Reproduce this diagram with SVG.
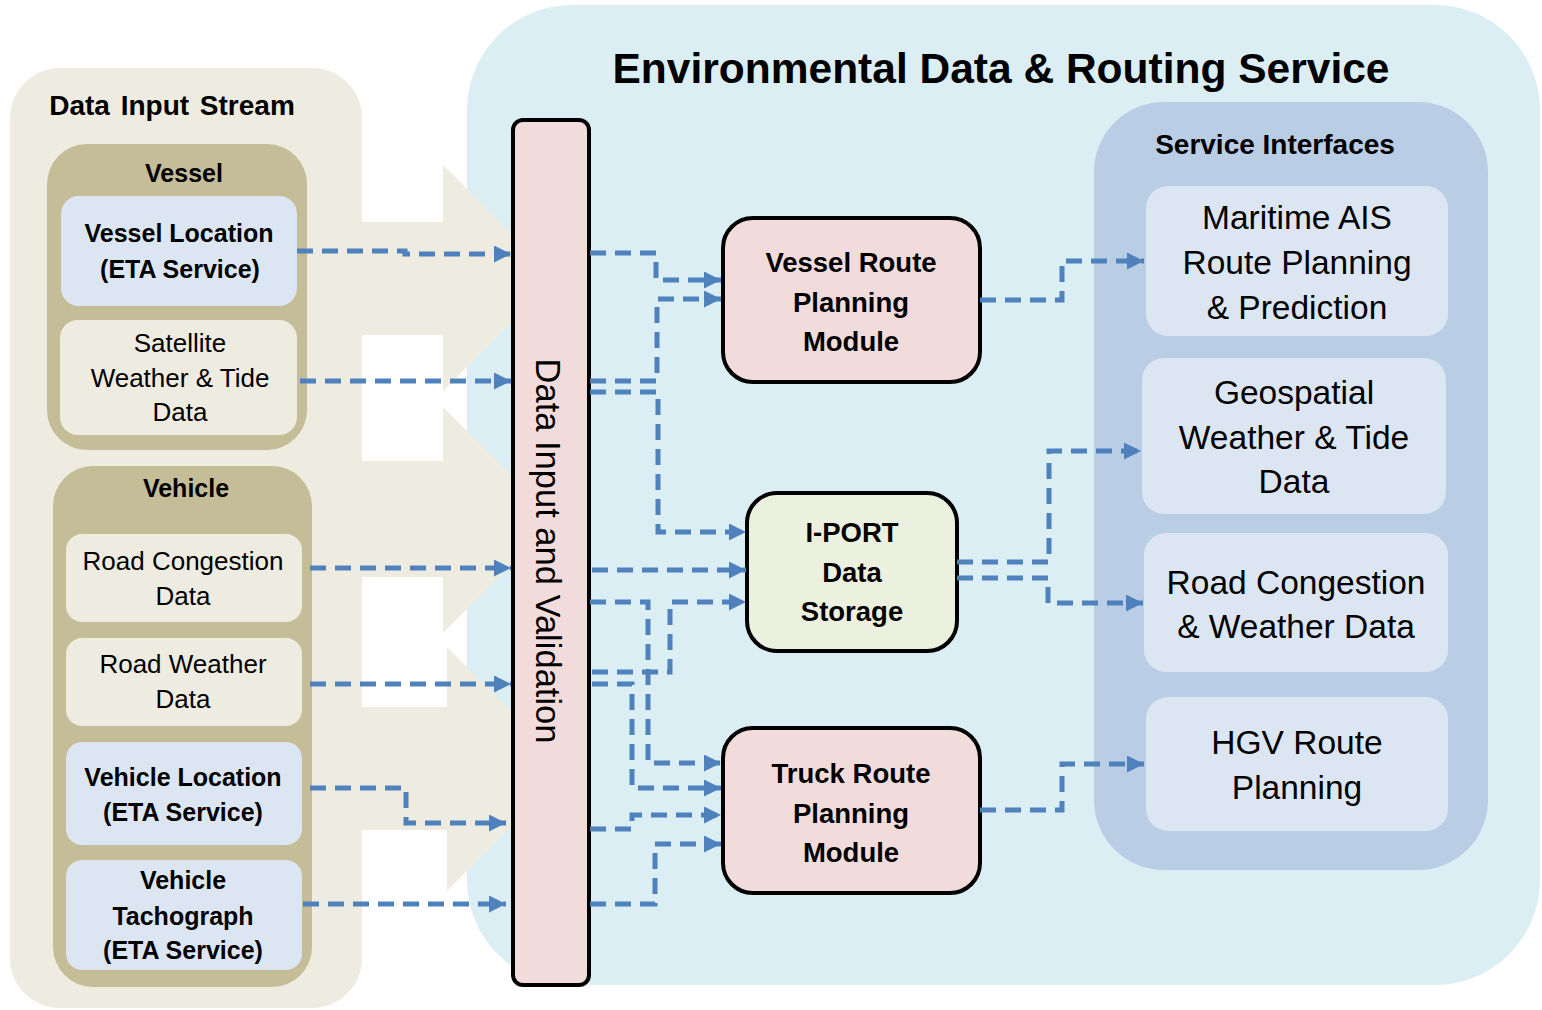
<svg xmlns="http://www.w3.org/2000/svg" width="1542" height="1010" viewBox="0 0 1542 1010">
<style>
text{font-family:"Liberation Sans",Arial,sans-serif;fill:#000;text-anchor:middle}
.b{font-weight:bold}
.s24{font-size:25px}
.s25{font-size:26px}
.s26{font-size:27.5px}
.s31{font-size:33.5px}
.beige{fill:#eeebe0}
.tan{fill:#c4bd97}
.lb{fill:#dce6f2}
.mod{stroke:#000;stroke-width:4}
.c{fill:none;stroke:#4f81bd;stroke-width:5;stroke-dasharray:16 9;marker-end:url(#ah)}
</style>
<defs>
<marker id="ah" markerUnits="userSpaceOnUse" markerWidth="17" markerHeight="17" refX="17" refY="8.5" orient="auto">
<path d="M0,0 L17,8.5 L0,17 z" fill="#4f81bd"/>
</marker>
</defs>
<rect width="1542" height="1010" fill="#fff"/>
<g id="routing-service">
<rect x="467" y="5" width="1073" height="980" rx="105" fill="#dbeef4"/>
<text class="b" x="1001" y="83" style="font-size:42.5px">Environmental Data &amp; Routing Service</text>
</g>
<g id="input-stream">
<rect x="10" y="68" width="352" height="940" rx="50" class="beige"/>
<polygon class="beige" points="360,222 443,222 443,165 556,278 443,391 443,335 360,335"/>
<polygon class="beige" points="360,461 443,461 443,407 556,520 443,633 443,577 360,577"/>
<polygon class="beige" points="360,707 447,707 447,647 569,769 447,891 447,830 360,830"/>
<text class="b" x="172" y="115" style="font-size:28px;word-spacing:3px">Data Input Stream</text>
</g>
<g id="vessel-group">
<rect x="47" y="144" width="260" height="306" rx="40" class="tan"/>
<text class="b s24" x="184" y="182">Vessel</text>
</g>
<g id="vessel-location">
<rect x="61" y="196" width="236" height="110" rx="18" class="lb"/>
<text class="b s24" x="179" y="242">Vessel Location</text>
<text class="b s24" x="180" y="278">(ETA Service)</text>
</g>
<g id="satellite">
<rect x="60" y="320" width="237" height="115" rx="18" class="beige"/>
<text class="s25" x="180" y="352">Satellite</text>
<text class="s25" x="180" y="387">Weather &amp; Tide</text>
<text class="s25" x="180" y="421">Data</text>
</g>
<g id="vehicle-group">
<rect x="53" y="466" width="259" height="521" rx="40" class="tan"/>
<text class="b s24" x="186" y="497">Vehicle</text>
</g>
<g id="road-congestion">
<rect x="66" y="534" width="236" height="88" rx="16" class="beige"/>
<text class="s25" x="183" y="570">Road Congestion</text>
<text class="s25" x="183" y="605">Data</text>
</g>
<g id="road-weather">
<rect x="66" y="638" width="236" height="88" rx="16" class="beige"/>
<text class="s25" x="183" y="673">Road Weather</text>
<text class="s25" x="183" y="708">Data</text>
</g>
<g id="vehicle-location">
<rect x="66" y="742" width="236" height="103" rx="16" class="lb"/>
<text class="b s24" x="183" y="786">Vehicle Location</text>
<text class="b s24" x="183" y="821">(ETA Service)</text>
</g>
<g id="vehicle-tachograph">
<rect x="66" y="860" width="236" height="110" rx="16" class="lb"/>
<text class="b s24" x="183" y="889">Vehicle</text>
<text class="b s24" x="183" y="925">Tachograph</text>
<text class="b s24" x="183" y="959">(ETA Service)</text>
</g>
<g id="validation">
<rect x="513" y="120" width="76" height="865" rx="10" fill="#f2dcdb" class="mod"/>
<text transform="translate(548,551) rotate(90)" x="0" y="12" style="font-size:34.5px">Data Input and Validation</text>
</g>
<g id="vessel-route-module">
<rect x="723" y="218" width="257" height="164" rx="30" fill="#f2dcdb" class="mod"/>
<text class="b s26" x="851" y="272">Vessel Route</text>
<text class="b s26" x="851" y="312">Planning</text>
<text class="b s26" x="851" y="351">Module</text>
</g>
<g id="iport-storage">
<rect x="747" y="493" width="210" height="158" rx="30" fill="#ebf1de" class="mod"/>
<text class="b s26" x="852" y="542">I-PORT</text>
<text class="b s26" x="852" y="582">Data</text>
<text class="b s26" x="852" y="621">Storage</text>
</g>
<g id="truck-route-module">
<rect x="723" y="728" width="257" height="165" rx="30" fill="#f2dcdb" class="mod"/>
<text class="b s26" x="851" y="783">Truck Route</text>
<text class="b s26" x="851" y="823">Planning</text>
<text class="b s26" x="851" y="862">Module</text>
</g>
<g id="service-interfaces">
<rect x="1094" y="102" width="394" height="768" rx="70" fill="#b9cde5"/>
<text class="b" x="1275" y="154" style="font-size:28px">Service Interfaces</text>
</g>
<g id="maritime-ais">
<rect x="1146" y="186" width="302" height="150" rx="22" class="lb"/>
<text class="s31" x="1297" y="229">Maritime AIS</text>
<text class="s31" x="1297" y="274">Route Planning</text>
<text class="s31" x="1297" y="319">&amp; Prediction</text>
</g>
<g id="geospatial">
<rect x="1142" y="358" width="304" height="156" rx="22" class="lb"/>
<text class="s31" x="1294" y="404">Geospatial</text>
<text class="s31" x="1294" y="449">Weather &amp; Tide</text>
<text class="s31" x="1294" y="493">Data</text>
</g>
<g id="road-congestion-weather">
<rect x="1144" y="533" width="304" height="139" rx="22" class="lb"/>
<text class="s31" x="1296" y="594">Road Congestion</text>
<text class="s31" x="1296" y="638">&amp; Weather Data</text>
</g>
<g id="hgv-route">
<rect x="1146" y="697" width="302" height="134" rx="22" class="lb"/>
<text class="s31" x="1297" y="754">HGV Route</text>
<text class="s31" x="1297" y="799">Planning</text>
</g>
<g id="connectors">
<path class="c" d="M297,251 H405 V254 H511"/>
<path class="c" d="M300,381 H511"/>
<path class="c" d="M310,568 H511"/>
<path class="c" d="M310,684 H511"/>
<path class="c" d="M310,788 H406 V823 H506"/>
<path class="c" d="M303,904 H506"/>
<path class="c" d="M590,253 H656 V280 H721"/>
<path class="c" d="M590,381 H657 V299 H721"/>
<path class="c" d="M590,392 H658 V532 H746"/>
<path class="c" d="M592,570 H746"/>
<path class="c" d="M590,602 H648 V763 H721"/>
<path class="c" d="M592,672 H670 V602 H746"/>
<path class="c" d="M592,684 H632 V788 H721"/>
<path class="c" d="M590,829 H632 V815 H721"/>
<path class="c" d="M590,904 H655 V844 H721"/>
<path class="c" d="M980,300 H1062 V261 H1144"/>
<path class="c" d="M957,562 H1049 V451 H1141"/>
<path class="c" d="M957,578 H1048 V603 H1143"/>
<path class="c" d="M980,810 H1062 V764 H1144"/>
</g>
</svg>
